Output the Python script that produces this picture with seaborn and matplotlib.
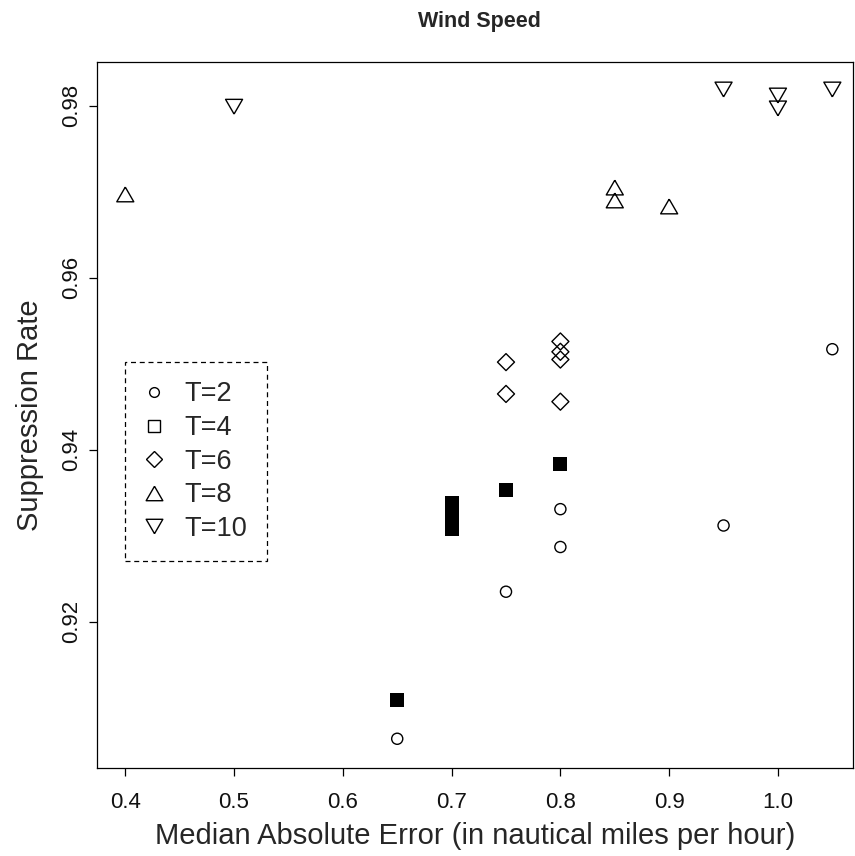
import matplotlib
matplotlib.use("Agg")
import matplotlib.pyplot as plt
from matplotlib.lines import Line2D
import seaborn as sns
import pandas as pd

# Median absolute error (x) and suppression rate (y) for each threshold T
x_t2 = [0.65, 0.75, 0.80, 0.80, 0.95, 1.05]
y_t2 = [0.9064, 0.9235, 0.9287, 0.9331, 0.9312, 0.9517]

x_t4 = [0.65, 0.70, 0.70, 0.70, 0.70, 0.75, 0.80]
y_t4 = [0.9109, 0.9308, 0.9318, 0.9328, 0.9338, 0.9353, 0.9383]

x_t6 = [0.75, 0.75, 0.80, 0.80, 0.80, 0.80]
y_t6 = [0.9502, 0.9465, 0.9526, 0.9514, 0.9505, 0.9456]

x_t8 = [0.40, 0.85, 0.85, 0.90]
y_t8 = [0.9697, 0.9705, 0.9690, 0.9683]

x_t10 = [0.50, 0.95, 1.00, 1.00, 1.05]
y_t10 = [0.9799, 0.9819, 0.9812, 0.9797, 0.9819]

legend_labels = ["T=2", "T=4", "T=6", "T=8", "T=10"]
x_ticks = [0.4, 0.5, 0.6, 0.7, 0.8, 0.9, 1.0]
y_ticks = [0.92, 0.94, 0.96, 0.98]

sns.set_style("ticks")
plt.rcParams["font.family"] = ["Liberation Sans", "DejaVu Sans"]

# R-style triangles (wider than tall)
tri_up = [(0, 1), (-1.155, -1), (1.155, -1), (0, 1)]
tri_down = [(0, -1), (-1.155, 1), (1.155, 1), (0, -1)]

fig = plt.figure(figsize=(8.55, 8.56), dpi=100)
ax = fig.add_axes([97 / 855, 1 - 768 / 856, 756 / 855, 706 / 856])

groups = [
    (x_t2, y_t2, "o", "none", 64, 1.0),
    (x_t4, y_t4, "s", "black", 88, 0.0),
    (x_t6, y_t6, "D", "none", 75, 1.0),
    (x_t8, y_t8, tri_up, "none", 150, 1.0),
    (x_t10, y_t10, tri_down, "none", 150, 1.0),
]
for xs, ys, mk, fc, size, lw in groups:
    df = pd.DataFrame({"mae": xs, "rate": ys})
    sns.scatterplot(data=df, x="mae", y="rate", marker=mk, s=size,
                    facecolor=fc, edgecolor="black", linewidth=lw, ax=ax,
                    legend=False, zorder=3)

ax.set_xlim(0.374, 1.069)
ax.set_ylim(0.9030, 0.9851)
ax.set_xticks(x_ticks)
ax.set_xticklabels([f"{v:.1f}" for v in x_ticks])
ax.set_yticks(y_ticks)
ax.set_yticklabels([f"{v:.2f}" for v in y_ticks], rotation=90, va="center")
ax.tick_params(axis="both", direction="out", length=6, width=0.9,
               color="black", labelsize=16, labelcolor="#111111")
ax.tick_params(axis="x", pad=11)
ax.tick_params(axis="y", pad=5)

for sp in ax.spines.values():
    sp.set_visible(True)
    sp.set_linewidth(0.9)
    sp.set_color("black")

ax.set_title("Wind Speed", fontsize=15.5, fontweight="bold", pad=25,
             x=(479 - 97) / 756)
ax.set_xlabel("Median Absolute Error (in nautical miles per hour)", fontsize=21)
ax.set_ylabel("Suppression Rate", fontsize=21)
ax.xaxis.label.set_va("center")
ax.xaxis.set_label_coords(0.5, (768 - 836) / 706)
ax.yaxis.label.set_va("center")
ax.yaxis.label.set_ha("center")
ax.yaxis.set_label_coords((30 - 97) / 756, 0.5)

handles = [
    Line2D([], [], linestyle="none", marker="o", markersize=7,
           markerfacecolor="none", markeredgecolor="black", markeredgewidth=1.0),
    Line2D([], [], linestyle="none", marker="s", markersize=8,
           markerfacecolor="none", markeredgecolor="black", markeredgewidth=1.0),
    Line2D([], [], linestyle="none", marker="D", markersize=8,
           markerfacecolor="none", markeredgecolor="black", markeredgewidth=1.0),
    Line2D([], [], linestyle="none", marker=tri_up, markersize=12,
           markerfacecolor="none", markeredgecolor="black", markeredgewidth=1.0),
    Line2D([], [], linestyle="none", marker=tri_down, markersize=12,
           markerfacecolor="none", markeredgecolor="black", markeredgewidth=1.0),
]
leg = ax.legend(handles, legend_labels, loc="upper left",
                bbox_to_anchor=((125 - 97) / 756, (768 - 362) / 706),
                borderaxespad=0, fontsize=19.5, frameon=True, fancybox=False,
                handlelength=0.72, handletextpad=0.75, borderpad=0.72,
                labelspacing=0.28)
frame = leg.get_frame()
frame.set_edgecolor("black")
frame.set_linewidth(0.9)
frame.set_linestyle((0, (4, 3)))
frame.set_alpha(1)

fig.savefig("out.png", dpi=100)
